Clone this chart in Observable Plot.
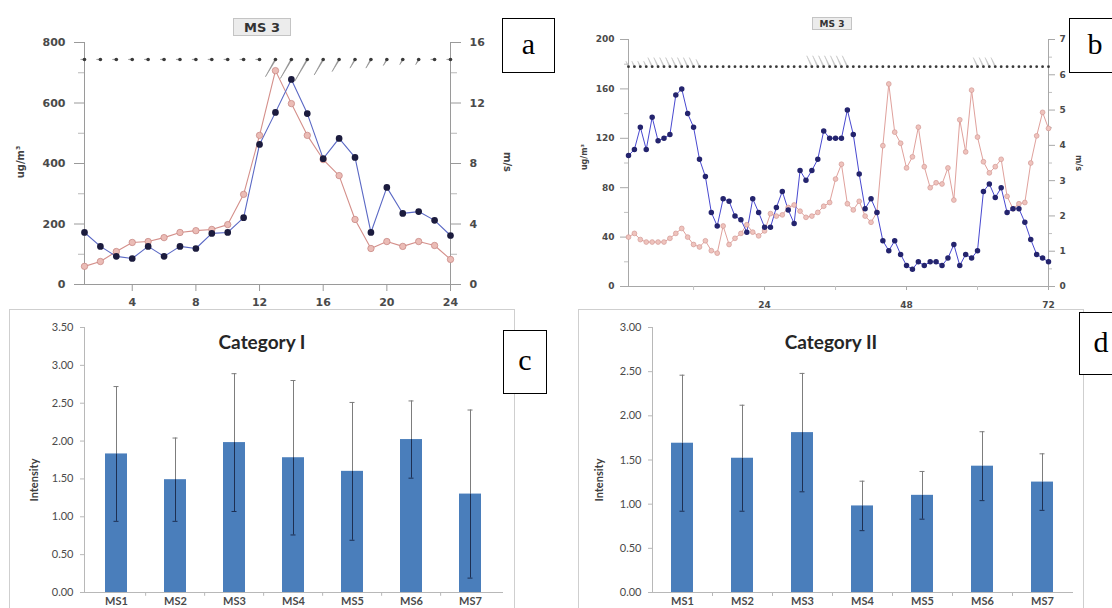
<!DOCTYPE html>
<html><head><meta charset="utf-8">
<script src="https://cdn.jsdelivr.net/npm/d3@7"></script>
<script src="https://cdn.jsdelivr.net/npm/@observablehq/plot@0.6"></script>
<style>
body{margin:0;background:#fff;}
#wrap{position:relative;width:1112px;height:608px;overflow:hidden;background:#fff;}
.panel{position:absolute;}
.panel svg{background:none;}
.lbox{position:absolute;border:1.5px solid #000;background:#fff;font-family:"Liberation Serif","DejaVu Serif",serif;font-size:30px;display:flex;align-items:center;justify-content:center;box-sizing:border-box;line-height:1;padding-bottom:4px;}
.frame{position:absolute;border:1px solid #cfcfcf;box-sizing:border-box;}
.ms3{position:absolute;background:#ececec;border:1px solid #c4c4c4;font-weight:bold;color:#333;font-family:"DejaVu Sans",sans-serif;display:flex;align-items:center;justify-content:center;box-sizing:border-box;}
.rot{position:absolute;white-space:nowrap;transform:translate(-50%,-50%) rotate(-90deg);}
.rotr{position:absolute;white-space:nowrap;transform:translate(-50%,-50%) rotate(90deg);}
.title{position:absolute;transform:translate(-50%,-50%);font-family:Lato,"Open Sans",sans-serif;font-weight:bold;font-size:19px;color:#262626;white-space:nowrap;}
</style>
</head><body>
<div id="wrap">
  <div class="frame" style="left:9px;top:309px;width:506px;height:310px;"></div>
  <div class="frame" style="left:578px;top:309px;width:506px;height:310px;"></div>
  <div id="pa" class="panel" style="left:0;top:0;width:556px;height:310px;"></div>
  <div id="pb" class="panel" style="left:556px;top:0;width:556px;height:310px;"></div>
  <div id="pc" class="panel" style="left:0;top:300px;width:556px;height:308px;"></div>
  <div id="pd" class="panel" style="left:556px;top:300px;width:556px;height:308px;"></div>

  <div class="ms3" style="left:233px;top:18px;width:58px;height:18px;font-size:13px;">MS 3</div>
  <div class="ms3" style="left:812px;top:17px;width:40px;height:13px;font-size:9px;">MS 3</div>

  <div class="rot" style="left:20px;top:162px;font:bold 10px 'DejaVu Sans',sans-serif;color:#444;">ug/m³</div>
  <div class="rotr" style="left:507px;top:162px;font:bold 10px 'DejaVu Sans',sans-serif;color:#444;">m/s</div>
  <div class="rot" style="left:584px;top:157px;font:bold 8px 'DejaVu Sans',sans-serif;color:#444;">ug/m³</div>
  <div class="rotr" style="left:1078px;top:163px;font:bold 8px 'DejaVu Sans',sans-serif;color:#444;">m/s</div>

  <div class="title" style="left:262px;top:341px;">Category I</div>
  <div class="title" style="left:831px;top:341px;">Category II</div>
  <div class="rot" style="left:33px;top:480px;font:bold 11px Lato,sans-serif;color:#404040;">Intensity</div>
  <div class="rot" style="left:598px;top:480px;font:bold 11px Lato,sans-serif;color:#404040;">Intensity</div>

  <div class="lbox" style="left:502px;top:18px;width:53px;height:55px;">a</div>
  <div class="lbox" style="left:1069px;top:18px;width:52px;height:55px;">b</div>
  <div class="lbox" style="left:503px;top:330px;width:44px;height:64px;">c</div>
  <div class="lbox" style="left:1079px;top:312px;width:44px;height:63px;">d</div>
</div>
<script>
// ---------- Panel a (24 h) ----------
const hoursA = [1,2,3,4,5,6,7,8,9,10,11,12,13,14,15,16,17,18,19,20,21,22,23,24];
const blueA  = [172,126,93,86,126,93,126,119,169,172,221,463,569,678,565,416,483,420,172,321,235,241,212,162];
const pinkA  = [60,76,109,139,142,155,172,178,182,198,298,493,707,598,493,413,360,215,119,142,126,142,129,83];
const windLenA = [4,4,4,4,4,4,4,4,4,4,4,4,20,22,25,18,14,10,10,7,6,6,4,4];
const windDirA = [270,270,270,270,270,270,270,270,270,270,270,270,210,210,210,210,210,210,210,210,210,210,270,270];
const xTicksA = [4,8,12,16,20,24];
const yTicksA = [0,200,400,600,800];
const yMinorA = [100,300,500,700];
const msTicksA = [0,4,8,12,16];

// ---------- Panel b (72 h) ----------
const hoursB = [1,2,3,4,5,6,7,8,9,10,11,12,13,14,15,16,17,18,19,20,21,22,23,24,25,26,27,28,29,30,31,32,33,34,35,36,
  37,38,39,40,41,42,43,44,45,46,47,48,49,50,51,52,53,54,55,56,57,58,59,60,61,62,63,64,65,66,67,68,69,70,71,72];
const blueB = [106,111,129,111,137,118,120,123,155,160, 140,129,103,89,60,49,71,69,57,54,
  44,71,60,48,48,64,77,62,51,94, 86,94,103,126,120,120,120,143,123,91,
  63,71,60,37,29,37,26,17,14,20, 17,20,20,17,23,34,17,26,23,29,
  77,83,72,80,60,63,63,52,38,26, 23,20];
const pinkB = [40,43,38,36,36,36,36,39,43,47, 40,34,32,37,29,27,49,34,39,43,
  50,44,41,45,59,57,58,64,66,61, 56,57,60,65,68,87,99,67,62,69,
  57,52,60,114,164,125,116,96,105,129, 97,80,84,83,96,70,135,109,159,121,
  101,92,97,103,73,63,67,68,100,122, 141,128];
const windLenB = [6,6,6,6,10,10,10,10,10,10, 10,10,8,0,0,0,0,0,0,0,
  0,0,0,0,0,0,0,0,0,0, 0,12,12,12,12,12,12,12,0,0,
  0,0,0,0,0,0,0,0,0,0, 0,0,0,0,0,0,0,0,0,10,
  10,10,10,0,0,0,0,0,0,0, 0,0];
const windDirB = hoursB.map(() => 335);
const yTicksB = [0,40,80,120,160,200];
const yMinorB = [20,60,100,140,180];
const msTicksB = [0,1,2,3,4,5,6,7];
const msMinorB = [0.5,1.5,2.5,3.5,4.5,5.5,6.5];
const xTicksB = [24,48,72];
const xMinorB = [12,36,60];

// ---------- Panels c, d ----------
const sites = ["MS1","MS2","MS3","MS4","MS5","MS6","MS7"];
const meanC = [1.83,1.49,1.98,1.78,1.60,2.02,1.30];
const sdC   = [0.89,0.55,0.91,1.02,0.91,0.51,1.11];
const meanD = [1.69,1.52,1.81,0.98,1.10,1.43,1.25];
const sdD   = [0.77,0.60,0.67,0.28,0.27,0.39,0.32];
const yTicksC = [0,0.5,1,1.5,2,2.5,3,3.5];
const yTicksD = [0,0.5,1,1.5,2,2.5,3];

// ---------- build ----------
const dataA = hoursA.map((h,i) => ({h, blue: blueA[i], pink: pinkA[i], len: windLenA[i], dir: windDirA[i]}));
const dataB = hoursB.map((h,i) => ({h, blue: blueB[i], pink: pinkB[i], len: windLenB[i], dir: windDirB[i]}));
const topStyle = {background:"none", fontFamily:"'DejaVu Sans', sans-serif", fontWeight:"bold", color:"#4a4a4a", overflow:"visible"};

const pa = Plot.plot({
  width: 556, height: 310,
  marginLeft: 84, marginRight: 106, marginTop: 42, marginBottom: 26,
  x: {domain: [1, 24]},
  y: {domain: [0, 800]},
  length: {domain: [0, 30], range: [0, 30]},
  style: {...topStyle, fontSize: "11px"},
  marks: [
    Plot.frame({anchor: "left", stroke: "#9a9a9a"}),
    Plot.frame({anchor: "right", stroke: "#9a9a9a"}),
    Plot.frame({anchor: "bottom", stroke: "#9a9a9a"}),
    Plot.axisY({ticks: yTicksA, tickSize: 10, tickPadding: 9, label: null, stroke: "#9a9a9a"}),
    Plot.axisY({ticks: yMinorA, tickSize: 6, tickFormat: () => "", label: null, stroke: "#b8b8b8"}),
    Plot.axisY({anchor: "right", ticks: yTicksA, tickFormat: (d, i) => msTicksA[i], tickSize: 10, tickPadding: 9, label: null, stroke: "#9a9a9a"}),
    Plot.axisY({anchor: "right", ticks: yMinorA, tickSize: 6, tickFormat: () => "", label: null, stroke: "#b8b8b8"}),
    Plot.axisX({ticks: xTicksA, tickSize: 7, tickPadding: 7, label: null, stroke: "#9a9a9a"}),
    Plot.vector(dataA, {x: "h", y: 744, length: "len", rotate: "dir", anchor: "start", shape: "spike", r: 0.6, fill: "#8a8a8a", stroke: "#8a8a8a", strokeWidth: 0.5}),
    Plot.dot(dataA, {x: "h", y: 744, r: 1.8, fill: "#3a3a3a"}),
    Plot.line(dataA, {x: "h", y: "pink", stroke: "#d48f8a", strokeWidth: 1.1}),
    Plot.line(dataA, {x: "h", y: "blue", stroke: "#5a68c4", strokeWidth: 1.1}),
    Plot.dot(dataA, {x: "h", y: "pink", r: 3.2, fill: "#ebbcb6", stroke: "#c98a86", strokeWidth: 0.8}),
    Plot.dot(dataA, {x: "h", y: "blue", r: 2.6, fill: "#1c1c3e", stroke: "#1c1c3e"})
  ]
});
document.getElementById("pa").append(pa);

const pb = Plot.plot({
  width: 556, height: 310,
  marginLeft: 72, marginRight: 64, marginTop: 39, marginBottom: 24,
  x: {domain: [1, 72]},
  y: {domain: [0, 200]},
  length: {domain: [0, 30], range: [0, 30]},
  style: {...topStyle, fontSize: "9px"},
  marks: [
    Plot.frame({anchor: "left", stroke: "#a8a8a8"}),
    Plot.frame({anchor: "right", stroke: "#a8a8a8"}),
    Plot.frame({anchor: "bottom", stroke: "#a8a8a8"}),
    Plot.axisY({ticks: yTicksB, tickSize: 8, tickPadding: 6, label: null, stroke: "#a8a8a8"}),
    Plot.axisY({ticks: yMinorB, tickSize: 4, tickFormat: () => "", label: null, stroke: "#c0c0c0"}),
    Plot.axisY({anchor: "right", ticks: msTicksB.map(m => m * 200 / 7), tickFormat: (d, i) => msTicksB[i], tickSize: 6, tickPadding: 5, label: null, stroke: "#a8a8a8"}),
    Plot.axisY({anchor: "right", ticks: msMinorB.map(m => m * 200 / 7), tickSize: 3, tickFormat: () => "", label: null, stroke: "#c0c0c0"}),
    Plot.axisX({ticks: xTicksB, tickSize: 4, tickPadding: 11, label: null, stroke: "#a8a8a8"}),
    Plot.axisX({ticks: xMinorB, tickSize: 4, tickFormat: () => "", label: null, stroke: "#c0c0c0"}),
    Plot.vector(dataB.filter(d => d.len > 0), {x: "h", y: 178, length: "len", rotate: "dir", anchor: "start", shape: "spike", r: 0.6, fill: "#c4c4c4", stroke: "#c4c4c4", strokeWidth: 0.5}),
    Plot.dot(dataB, {x: "h", y: 178, r: 1.4, fill: "#3a3a3a"}),
    Plot.line(dataB, {x: "h", y: "pink", stroke: "#e0a19c", strokeWidth: 1}),
    Plot.line(dataB, {x: "h", y: "blue", stroke: "#4848d0", strokeWidth: 1}),
    Plot.dot(dataB, {x: "h", y: "pink", r: 2.4, fill: "#efc3bd", stroke: "#d29a95", strokeWidth: 0.7}),
    Plot.dot(dataB, {x: "h", y: "blue", r: 2, fill: "#24246e", stroke: "#24246e"})
  ]
});
document.getElementById("pb").append(pb);

function barPanel(means, sds, ticks, ymax, mL, mR, capDrop, halfStep) {
  const data = sites.map((s, i) => ({s, mean: means[i], sd: sds[i]}));
  return Plot.plot({
    width: 556, height: 308,
    marginLeft: mL, marginRight: mR, marginTop: 27, marginBottom: 16,
    x: {domain: sites, paddingInner: 0.63, paddingOuter: 0.315},
    y: {domain: [0, ymax]},
    style: {background: "none", fontFamily: "Lato, 'Open Sans', sans-serif", fontSize: "11px", color: "#4a4a4a", overflow: "visible"},
    marks: [
      Plot.frame({anchor: "left", stroke: "#b8b8b8"}),
      Plot.frame({anchor: "bottom", stroke: "#b8b8b8"}),
      Plot.axisY({ticks: ticks, tickFormat: d => d.toFixed(2), tickSize: 4, tickPadding: 7, label: null, stroke: "#b8b8b8"}),
      Plot.axisX({tickSize: 0, tickPadding: 5, label: null, fontWeight: "bold"}),
      Plot.ruleX(sites.slice(1), {x: d => d, y1: 0, y2: -capDrop, dx: -halfStep, stroke: "#b8b8b8"}),
      Plot.barY(data, {x: "s", y: "mean", fill: "#4a7ebb"}),
      Plot.ruleX(data, {x: "s", y1: d => d.mean, y2: d => d.mean + d.sd, stroke: "#7d7d7d", strokeWidth: 1}),
      Plot.ruleX(data, {x: "s", y1: d => d.mean - d.sd, y2: d => d.mean, stroke: "#1d2f52", strokeWidth: 1}),
      Plot.tickY(data, {x: "s", y: d => d.mean + d.sd, stroke: "#7d7d7d", inset: 8.5}),
      Plot.tickY(data, {x: "s", y: d => d.mean - d.sd, stroke: "#1d2f52", inset: 8.5})
    ]
  });
}
document.getElementById("pc").append(barPanel(meanC, sdC, yTicksC, 3.5, 84, 54, 0.05, 29.86));
document.getElementById("pd").append(barPanel(meanD, sdD, yTicksD, 3.0, 96, 40, 0.045, 30));
</script>
</body></html>
